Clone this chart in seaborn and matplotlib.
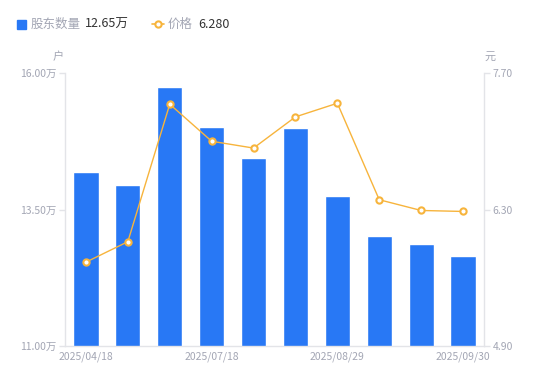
import matplotlib
matplotlib.use("Agg")
import matplotlib.pyplot as plt
from matplotlib.patches import Rectangle
from matplotlib.lines import Line2D
import seaborn as sns

# report dates (only every third one is labelled in the chart)
dates = ["2025/04/18", "2025/04/30", "2025/06/30", "2025/07/18", "2025/07/31",
         "2025/08/10", "2025/08/29", "2025/09/10", "2025/09/19", "2025/09/30"]
holders = [14.19, 13.95, 15.74, 15.01, 14.44, 14.99, 13.75, 13.01, 12.87, 12.65]  # 万户
price = [5.76, 5.97, 7.38, 7.00, 6.93, 7.25, 7.39, 6.40, 6.29, 6.28]  # 元

left_ticks = [11.0, 13.5, 16.0]
right_ticks = [4.90, 6.30, 7.70]

BLUE = "#2878f5"
ORANGE = "#f7b43c"
GREY = "#a3a6b4"
DARK = "#333333"
AXIS = "#e3e4e8"

sns.set_theme(style="white")
plt.rcParams["font.family"] = ["Noto Sans CJK SC", "DejaVu Sans"]

fig = plt.figure(figsize=(5.5, 3.81), dpi=100)
ax = fig.add_axes([65 / 550, 35 / 381, 419 / 550, 273 / 381])

sns.barplot(x=dates, y=holders, color=BLUE, saturation=1, width=0.6, ax=ax)
ax.set_ylim(11.0, 16.0)

ax2 = ax.twinx()
sns.pointplot(x=dates, y=price, color=ORANGE, errorbar=None, ax=ax2,
              markers="o", markersize=4.5, linewidth=1.0,
              markerfacecolor="white", markeredgewidth=1.5, markeredgecolor=ORANGE)
ax2.set_ylim(4.90, 7.70)
ax.set_xlim(-0.5, len(dates) - 0.5)

ax.set_yticks(left_ticks)
ax.set_yticklabels([f"{v:.2f}万" for v in left_ticks])
ax2.set_yticks(right_ticks)
ax2.set_yticklabels([f"{v:.2f}" for v in right_ticks])
idx = list(range(0, len(dates), 3))
ax.set_xticks(idx)
ax.set_xticklabels([dates[i] for i in idx])
ax.set_xlabel("")
ax.set_ylabel("")
ax2.set_xlabel("")
ax2.set_ylabel("")

for a in (ax, ax2):
    for side, sp in a.spines.items():
        sp.set_color(AXIS)
        sp.set_linewidth(1.0)
    a.spines["top"].set_visible(False)
    a.tick_params(axis="y", colors=AXIS, labelcolor=GREY, labelsize=7.5,
                  length=4, width=1, direction="out", pad=2)
    a.tick_params(axis="x", colors=AXIS, labelcolor=GREY, labelsize=7.5,
                  length=0, pad=4)
    a.grid(False)
ax.spines["right"].set_visible(False)
ax2.spines["left"].set_visible(False)
ax2.spines["bottom"].set_visible(False)

# unit labels
fig.text(58 / 550, 1 - 57 / 381, "户", color=GREY, fontsize=8, ha="center", va="center")
fig.text(490 / 550, 1 - 57 / 381, "元", color=GREY, fontsize=8, ha="center", va="center")

# legend row
fig.add_artist(Rectangle((17 / 550, 1 - 29 / 381), 9 / 550, 9 / 381,
                         transform=fig.transFigure, color=BLUE))
fig.text(31 / 550, 1 - 24 / 381, "股东数量", color=GREY, fontsize=9, va="center")
fig.text(85 / 550, 1 - 24 / 381, f"{holders[-1]:.2f}万", color=DARK, fontsize=9, va="center")
fig.add_artist(Line2D([152 / 550, 164 / 550], [1 - 24 / 381, 1 - 24 / 381],
                      transform=fig.transFigure, color=ORANGE, lw=1.2))
fig.add_artist(Line2D([158 / 550], [1 - 24 / 381], transform=fig.transFigure,
                      marker="o", markersize=4.5, markerfacecolor="white",
                      markeredgecolor=ORANGE, markeredgewidth=1.5, lw=0))
fig.text(168 / 550, 1 - 24 / 381, "价格", color=GREY, fontsize=9, va="center")
fig.text(198 / 550, 1 - 24 / 381, f"{price[-1]:.3f}", color=DARK, fontsize=9, va="center")

fig.savefig("out.png", dpi=100)
